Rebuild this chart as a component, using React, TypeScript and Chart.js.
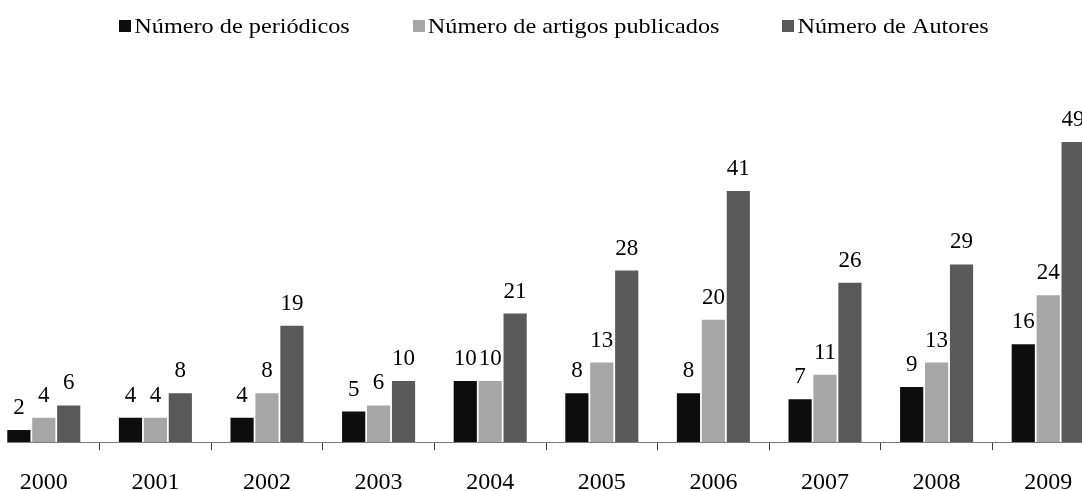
import React, { useEffect, useRef } from 'react';
import { Chart, registerables } from 'chart.js';

Chart.register(...registerables);

const years = ['2000', '2001', '2002', '2003', '2004', '2005', '2006', '2007', '2008', '2009'];
const periodicos = [2, 4, 4, 5, 10, 8, 8, 7, 9, 16];
const artigos = [4, 4, 8, 6, 10, 13, 20, 11, 13, 24];
const autores = [6, 8, 19, 10, 21, 28, 41, 26, 29, 49];
const seriesNames = ['Número de periódicos', 'Número de artigos publicados', 'Número de Autores'];
const seriesColors = ['#0d0d0d', '#a6a6a6', '#595959'];

const FONT = '"Liberation Serif", "Times New Roman", serif';
const AXIS_COLOR = '#7a7a7a';
const CW = 1116;
const CH = 515;

// legend styling
const LEGEND_SIZE = 21;
const LEGEND_STRETCH = 1.155;
const LEGEND_BASELINE = 32.5;
const LEGEND_SHIFT = 8;
const BOX = 12;
const BOX_GAP = 3;
const ITEM_GAP = 63;

const legendPlugin = {
  id: 'stretchedLegend',
  afterDraw(chart: any) {
    const ctx = chart.ctx;
    ctx.save();
    ctx.font = `${LEGEND_SIZE}px ${FONT}`;
    ctx.textBaseline = 'alphabetic';
    ctx.textAlign = 'left';
    const items = chart.data.datasets.map((ds: any) => {
      const tw = ctx.measureText(ds.label).width * LEGEND_STRETCH;
      return { label: ds.label, color: ds.backgroundColor, w: BOX + BOX_GAP + tw };
    });
    const total = items.reduce((s: number, it: any) => s + it.w, 0) + ITEM_GAP * (items.length - 1);
    let x = chart.width / 2 + LEGEND_SHIFT - total / 2;
    items.forEach((it: any) => {
      ctx.fillStyle = it.color;
      ctx.fillRect(Math.round(x), Math.round(LEGEND_BASELINE - 1 - BOX), BOX, BOX);
      ctx.fillStyle = '#000';
      ctx.save();
      ctx.translate(x + BOX + BOX_GAP, LEGEND_BASELINE);
      ctx.scale(LEGEND_STRETCH, 1);
      ctx.fillText(it.label, 0, 0);
      ctx.restore();
      x += it.w + ITEM_GAP;
    });
    ctx.restore();
  },
};

const labelPlugin = {
  id: 'barLabels',
  afterDatasetsDraw(chart: any) {
    const ctx = chart.ctx;
    ctx.save();
    // axis line, starting at the left edge of the first bar
    const first = chart.getDatasetMeta(0).data[0];
    const y0 = Math.round(chart.scales.y.getPixelForValue(0)) + 0.5;
    ctx.strokeStyle = AXIS_COLOR;
    ctx.lineWidth = 1;
    ctx.beginPath();
    ctx.moveTo(first.x - first.width / 2, y0);
    ctx.lineTo(chart.chartArea.right, y0);
    ctx.stroke();
    // value labels
    ctx.font = `23px ${FONT}`;
    ctx.fillStyle = '#000';
    ctx.textAlign = 'center';
    ctx.textBaseline = 'alphabetic';
    chart.data.datasets.forEach((ds: any, i: number) => {
      const meta = chart.getDatasetMeta(i);
      meta.data.forEach((bar: any, j: number) => {
        ctx.fillText(String(ds.data[j]), bar.x, bar.y - 16);
      });
    });
    ctx.restore();
  },
};

export default function App() {
  const ref = useRef<HTMLCanvasElement>(null);
  useEffect(() => {
    document.body.style.margin = '0';
    document.body.style.overflow = 'hidden';
    const values = [periodicos, artigos, autores];
    const chart = new Chart(ref.current as HTMLCanvasElement, {
      type: 'bar',
      data: {
        labels: years,
        datasets: values.map((v, i) => ({
          label: seriesNames[i],
          data: v,
          backgroundColor: seriesColors[i],
          borderWidth: 0,
          categoryPercentage: 0.67,
          barPercentage: 0.93,
        })),
      },
      options: {
        responsive: false,
        animation: false,
        devicePixelRatio: 1,
        layout: { padding: { top: 50, left: 0, right: 0, bottom: 0 } },
        plugins: {
          tooltip: { enabled: false },
          legend: { display: false },
        },
        scales: {
          x: {
            grid: {
              display: true,
              drawOnChartArea: false,
              drawTicks: true,
              tickLength: 8,
              color: '#404040',
              offset: true,
            },
            border: { display: false },
            ticks: {
              font: { family: FONT, size: 24 },
              color: '#000',
              padding: 18,
              autoSkip: false,
              maxRotation: 0,
            },
          },
          y: {
            display: false,
            min: 0,
            max: 64,
          },
        },
      },
      plugins: [labelPlugin, legendPlugin],
    } as any);
    return () => chart.destroy();
  }, []);
  return (
    <div style={{ position: 'fixed', left: 0, top: 0, width: 1082, height: 491, overflow: 'hidden', background: '#fff' }}>
      <canvas
        ref={ref}
        width={CW}
        height={CH}
        style={{ position: 'absolute', left: -12, top: 0, width: CW, height: CH }}
      />
    </div>
  );
}
